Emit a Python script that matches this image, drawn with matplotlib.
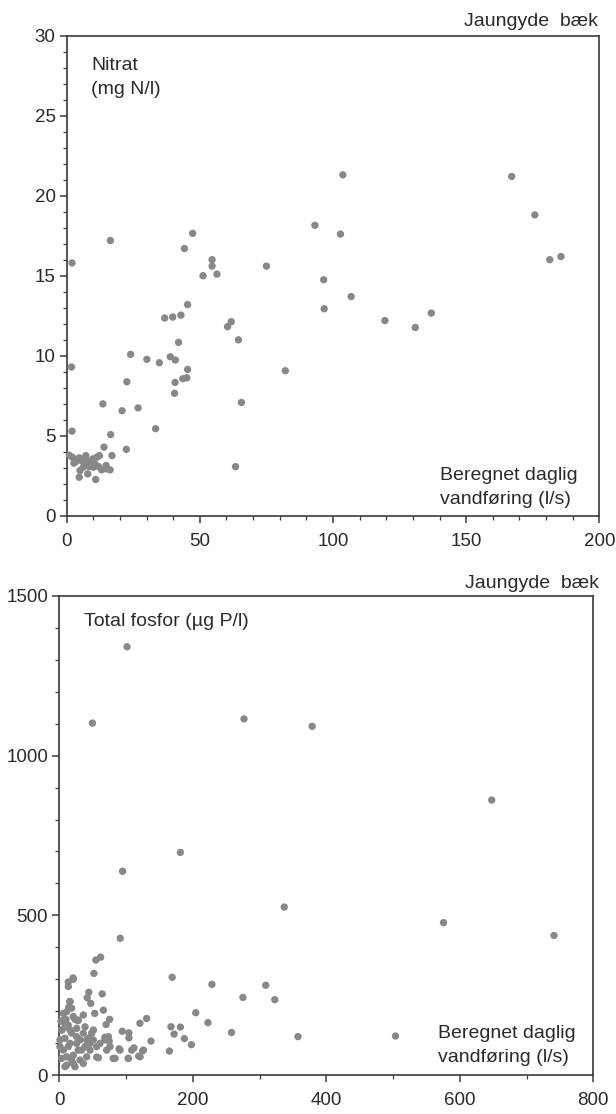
import matplotlib
matplotlib.use("Agg")
import matplotlib.pyplot as plt
from matplotlib.ticker import MultipleLocator

plt.rcParams['font.family'] = ['Liberation Sans', 'DejaVu Sans']

# ---------------- data: Nitrat (top) ----------------
nit_x = [2.0, 16.4, 44.2, 47.3, 54.6, 54.6, 56.4, 51.2, 75.0, 93.2, 103.7, 102.8, 96.5,
         167.1, 175.8, 181.4, 185.6,
         106.8, 45.4, 36.8, 39.8, 42.9, 96.7, 119.5, 130.9, 136.9, 61.8, 60.4, 64.5, 42.0,
         24.0, 30.1, 34.8, 38.9, 40.8, 45.4, 1.8, 22.6, 40.7, 43.6, 45.1, 82.1, 40.5, 65.6,
         13.6, 26.8, 20.8, 33.4, 2.0, 16.5, 14.0, 22.4, 17.0, 63.4,
         1.0, 2.1, 3.0, 2.7, 3.7, 4.7, 5.6, 7.2, 7.7, 6.9, 8.4, 9.0, 9.8, 10.6, 11.3, 12.3,
         11.9, 13.1, 14.8, 15.0, 16.3, 5.0, 4.7, 7.9, 10.9, 6.2, 10.0]
nit_y = [15.8, 17.2, 16.7, 17.65, 16.0, 15.6, 15.1, 15.0, 15.6, 18.15, 21.3, 17.6, 14.75,
         21.2, 18.8, 16.0, 16.2,
         13.7, 13.2, 12.36, 12.42, 12.54, 12.94, 12.2, 11.77, 12.67, 12.13, 11.82, 11.0, 10.84,
         10.09, 9.78, 9.57, 9.94, 9.74, 9.15, 9.3, 8.38, 8.34, 8.57, 8.63, 9.07, 7.66, 7.09,
         7.0, 6.75, 6.57, 5.45, 5.3, 5.08, 4.3, 4.16, 3.77, 3.08,
         3.79, 3.67, 3.55, 3.30, 3.42, 3.63, 3.46, 3.77, 3.46, 3.21, 3.09, 3.36, 3.56, 3.25,
         3.67, 3.77, 3.09, 2.88, 3.15, 2.94, 2.88, 2.84, 2.42, 2.63, 2.28, 3.05, 3.05]

# ---------------- data: Total fosfor (bottom) ----------------
fos_x = [101.5, 49.6, 276.7, 378.8, 647.8,
         181.4, 94.8, 337.0, 575.6, 741.1, 91.3, 61.9, 54.8, 51.8, 20.6, 13.5, 169.1, 228.6,
         309.3, 275.1, 322.8, 44.2, 64.2, 41.8, 47.1, 15.9, 14.1, 66.0, 53.0, 204.4, 222.7,
         130.8, 120.8, 75.4, 70.1, 167.3, 181.4, 172.0, 187.3, 258.0, 357.6, 503.7, 197.9,
         164.9, 137.3, 80.7, 103.1, 119.0, 124.9, 111.9, 104.3, 94.3, 104.3, 89.5, 68.3,
         74.8, 56.0, 4.1, 2.4, 10.0, 23.6, 27.7,
         6.0, 11.0, 16.0, 18.5, 21.0, 13.5, 3.5, 8.5, 16.0, 6.0, 3.5, 11.0, 21.0, 28.5,
         18.5, 26.0, 31.0, 38.5, 36.0, 43.5, 48.5, 46.0, 51.0, 56.0, 61.0, 21.0, 31.0, 41.0,
         11.0, 8.5, 23.5, 36.0, 28.5, 38.5, 51.0, 58.5, 71.0, 76.0, 83.5, 91.0, 103.5, 121.0,
         126.0, 108.5, 73.5, 68.5, 36.0, 13.5, 21.0, 6.0, 1.0, 8.5, 16.0, 26.0, 33.5, 46.0,
         18.5, 13.5, 26.0, 41.0, 1.0]
fos_y = [1341, 1102, 1115, 1092, 861,
         697, 638, 526, 477, 437, 428, 369, 360, 318, 304, 291, 306, 284,
         281, 243, 236, 259, 254, 242, 224, 230, 212, 203, 193, 195, 164,
         177, 162, 174, 158, 151, 150, 128, 114, 133, 120, 122, 95,
         75, 106, 52, 52, 59, 76, 85, 116, 137, 132, 82, 118,
         106, 56, 141, 168, 174, 174, 170,
         172, 198, 230, 209, 183, 156, 141, 115, 99, 78, 52, 57, 62, 78,
         131, 146, 110, 89, 131, 115, 131, 99, 110, 89, 99, 36, 47, 57,
         31, 26, 26, 36, 172, 151, 141, 54, 78, 89, 52, 78, 52, 57,
         78, 78, 120, 110, 188, 277, 300, 193, 89, 151, 141, 120, 78, 78,
         47, 89, 99, 110, 110]

nit_xticks = [0, 50, 100, 150, 200]
nit_yticks = [0, 5, 10, 15, 20, 25, 30]
fos_xticks = [0, 200, 400, 600, 800]
fos_yticks = [0, 500, 1000, 1500]

W, H = 616, 1114
fig = plt.figure(figsize=(W / 100, H / 100), dpi=100)

dot_color = '#888888'
axis_color = '#3a3a3a'
text_color = '#2a2a2a'
fs_tick = 13.5
fs = 14


def px_axes(l, t, r, b):
    return fig.add_axes([l / W, 1 - b / H, (r - l) / W, (b - t) / H])


def style(ax):
    for s in ax.spines.values():
        s.set_color(axis_color)
        s.set_linewidth(1.2)
    ax.tick_params(which='major', direction='out', length=5, width=1.1,
                   colors=axis_color, labelcolor=text_color, labelsize=fs_tick, pad=3)
    ax.tick_params(which='minor', direction='out', length=3, width=0.9, colors=axis_color)


# ---------- top plot ----------
ax1 = px_axes(66.7, 35.5, 599.3, 516)
ax1.scatter(nit_x, nit_y, s=28, color=dot_color, edgecolors='none', zorder=3, clip_on=False)
ax1.set_xlim(0, 200)
ax1.set_ylim(0, 30)
ax1.set_xticks(nit_xticks)
ax1.set_yticks(nit_yticks)
ax1.xaxis.set_minor_locator(MultipleLocator(10))
ax1.yaxis.set_minor_locator(MultipleLocator(1))
style(ax1)
ax1.tick_params(axis='x', which='major', pad=7)

fig.text(598 / W, 1 - 22 / H, 'Jaungyde  bæk', ha='right', va='center', fontsize=fs, color=text_color)
fig.text(91 / W, 1 - 65 / H, 'Nitrat', ha='left', va='center', fontsize=fs, color=text_color)
fig.text(91 / W, 1 - 90 / H, '(mg N/l)', ha='left', va='center', fontsize=fs, color=text_color)
fig.text(440 / W, 1 - 475 / H, 'Beregnet daglig', ha='left', va='center', fontsize=fs, color=text_color)
fig.text(440 / W, 1 - 499 / H, 'vandføring (l/s)', ha='left', va='center', fontsize=fs, color=text_color)

# ---------- bottom plot ----------
ax2 = px_axes(59.3, 596, 593.3, 1075)
ax2.scatter(fos_x, fos_y, s=28, color=dot_color, edgecolors='none', zorder=3, clip_on=False)
ax2.set_xlim(0, 800)
ax2.set_ylim(0, 1500)
ax2.set_xticks(fos_xticks)
ax2.set_yticks(fos_yticks)
ax2.xaxis.set_minor_locator(MultipleLocator(100))
ax2.yaxis.set_minor_locator(MultipleLocator(100))
style(ax2)
ax2.tick_params(axis='x', which='major', pad=7)

fig.text(599 / W, 1 - 583 / H, 'Jaungyde  bæk', ha='right', va='center', fontsize=fs, color=text_color)
fig.text(84 / W, 1 - 622 / H, 'Total fosfor (µg P/l)', ha='left', va='center', fontsize=fs, color=text_color)
fig.text(438 / W, 1 - 1034 / H, 'Beregnet daglig', ha='left', va='center', fontsize=fs, color=text_color)
fig.text(438 / W, 1 - 1057 / H, 'vandføring (l/s)', ha='left', va='center', fontsize=fs, color=text_color)

fig.savefig('out.png', dpi=100, facecolor='white')
